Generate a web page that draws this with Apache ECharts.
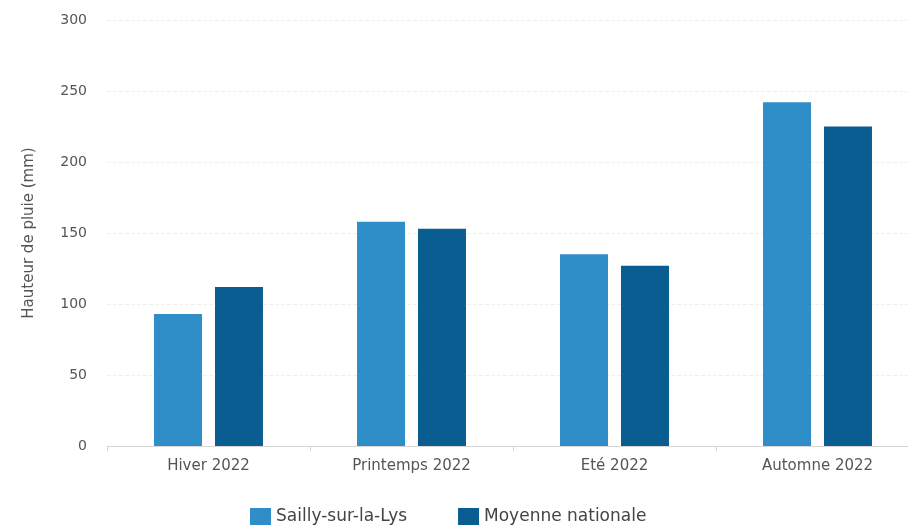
<!DOCTYPE html>
<html>
<head>
<meta charset="utf-8">
<script src="https://cdn.jsdelivr.net/npm/echarts@6/dist/echarts.min.js"></script>
<style>
  html, body { margin: 0; padding: 0; background: #fff; overflow: hidden; }
  /* the plot runs slightly past the right edge of the window */
  #chart { width: 920px; height: 531px; }
</style>
</head>
<body>
<div id="chart"></div>
<script>
// Seasonal rainfall, 2022 (mm)
const seasons = ['Hiver 2022', 'Printemps 2022', 'Eté 2022', 'Automne 2022'];
const saillyValues = [93, 158, 135, 242];
const nationalValues = [112, 153, 127, 225];
const seriesNames = ['Sailly-sur-la-Lys', 'Moyenne nationale'];
const yAxisTitle = 'Hauteur de pluie (mm)';

const font = 'DejaVu Sans';
const chart = echarts.init(document.getElementById('chart'), null, { renderer: 'canvas' });

chart.setOption({
  animation: false,
  textStyle: { fontFamily: font },
  color: ['#2f8dc8', '#0a5d91'],
  grid: { left: 107, right: 1, top: 20, bottom: 85 },
  legend: {
    bottom: 1,
    left: 245,
    itemWidth: 21,
    itemHeight: 17,
    itemGap: 51,
    icon: 'rect',
    textStyle: { fontFamily: font, fontSize: 17, color: '#444' },
    data: seriesNames
  },
  xAxis: {
    type: 'category',
    data: seasons,
    axisLine: { lineStyle: { color: '#d6d6d6' } },
    axisTick: { show: true, length: 5, lineStyle: { color: '#d6d6d6' } },
    axisLabel: { fontFamily: font, fontSize: 15, color: '#555', margin: 13 }
  },
  yAxis: {
    type: 'value',
    min: 0,
    max: 300,
    interval: 50,
    name: yAxisTitle,
    nameLocation: 'middle',
    nameGap: 70,
    nameTextStyle: { fontFamily: font, fontSize: 15, color: '#555' },
    axisLabel: { fontFamily: font, fontSize: 14, color: '#555', margin: 20 },
    splitLine: { lineStyle: { color: '#efefef', type: 'dashed' } }
  },
  series: [
    {
      name: seriesNames[0],
      type: 'bar',
      data: saillyValues,
      barWidth: 48,
      barGap: '27%'
    },
    {
      name: seriesNames[1],
      type: 'bar',
      data: nationalValues,
      barWidth: 48,
      barGap: '27%'
    }
  ]
});
</script>
</body>
</html>
